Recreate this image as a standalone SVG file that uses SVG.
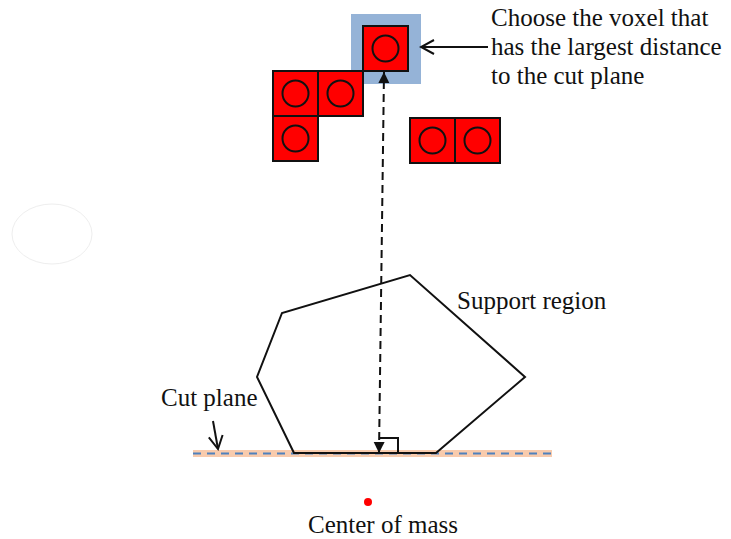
<svg xmlns="http://www.w3.org/2000/svg" width="731" height="539" viewBox="0 0 731 539">
<style>
.vox{fill:#FF0000;stroke:#111;stroke-width:2}
.circ{fill:none;stroke:#111;stroke-width:2}
.lbl{font-family:'Liberation Serif','Times New Roman',Times,serif;font-size:25px;fill:#111}
.ln{fill:none;stroke:#111;stroke-width:2}
</style>
<defs>
<marker id="open" markerWidth="16" markerHeight="16" refX="14" refY="8" orient="auto" markerUnits="userSpaceOnUse">
<path d="M1,1 L14,8 L1,15" fill="none" stroke="#111" stroke-width="2"/>
</marker>
<marker id="tri" markerWidth="12" markerHeight="12" refX="11" refY="6" orient="auto-start-reverse" markerUnits="userSpaceOnUse">
<path d="M0,0.5 L11,6 L0,11.5 Z" fill="#111"/>
</marker>
<g id="voxel">
<rect class="vox" x="0" y="0" width="45" height="45"/>
<circle class="circ" cx="22.5" cy="22.5" r="13"/>
</g>
</defs>
<rect width="731" height="539" fill="#fff"/>
<ellipse cx="52" cy="234" rx="40" ry="30" fill="#fff" stroke="#eeeeee" stroke-width="1"/>
<g id="cut-plane">
<rect x="193" y="450" width="359" height="7" fill="#F8CBAD"/>
<line x1="193" y1="453.5" x2="552" y2="453.5" stroke="#4F81BD" stroke-width="2" stroke-dasharray="8,6"/>
</g>
<g id="support-region">
<polygon class="ln" points="294,453 257,377 282,313 410,275 525,377 436,453"/>
</g>
<g id="selected-voxel">
<rect x="351" y="14" width="70" height="70" fill="#95B3D7"/>
<use href="#voxel" x="363" y="26"/>
</g>
<g id="voxel-group-left">
<use href="#voxel" x="273" y="71"/>
<use href="#voxel" x="318" y="71"/>
<use href="#voxel" x="273" y="116"/>
</g>
<g id="voxel-group-right">
<use href="#voxel" x="410" y="118"/>
<use href="#voxel" x="455" y="118"/>
</g>
<g id="right-angle">
<polyline class="ln" points="380,438 398,438 398,453"/>
</g>
<g id="center-of-mass">
<circle cx="368" cy="502" r="4" fill="#FF0000"/>
</g>
<g id="connectors">
<line x1="379" y1="453" x2="384" y2="72" stroke="#111" stroke-width="2" stroke-dasharray="8,5" marker-start="url(#tri)" marker-end="url(#tri)"/>
<line class="ln" x1="488" y1="47" x2="421" y2="47" marker-end="url(#open)"/>
<line class="ln" x1="213" y1="421" x2="218" y2="449" marker-end="url(#open)"/>
</g>
<g id="labels" font-family="'Liberation Serif', serif">
<text class="lbl" x="491" y="26">Choose the voxel that</text>
<text class="lbl" x="491" y="55">has the largest distance</text>
<text class="lbl" x="491" y="84">to the cut plane</text>
<text class="lbl" x="457" y="309">Support region</text>
<text class="lbl" x="161" y="406">Cut plane</text>
<text class="lbl" x="308" y="533">Center of mass</text>
</g>
</svg>
